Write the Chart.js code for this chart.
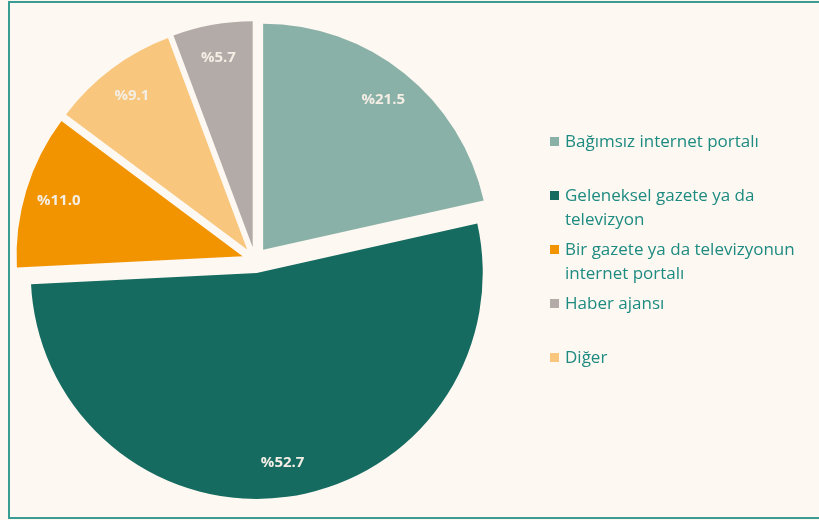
<!DOCTYPE html>
<html>
<head>
<meta charset="utf-8">
<script src="https://cdn.jsdelivr.net/npm/chart.js@4.4.1/dist/chart.umd.min.js"></script>
<style>
  html, body { margin: 0; padding: 0; }
  body { width: 819px; height: 520px; background: #fdf8f2; position: relative; overflow: hidden; font-family: "Open Sans", sans-serif; }
  #frame { position: absolute; left: 8px; top: 1px; width: 840px; height: 514px; border: 2px solid #3a9d93; }
  #wrap { position: absolute; left: 0; top: 0; width: 819px; height: 520px; }
  #legend { position: absolute; left: 550px; top: 129px; width: 262px; }
  .item { position: relative; height: 54px; padding-left: 15px; color: #1e8b81; font-size: 17px; line-height: 24px; }
  .item span.box { position: absolute; left: 0; top: 8px; width: 9px; height: 9px; }
  .item .txt { width: 240px; }
</style>
</head>
<body>
<div id="frame"></div>
<div id="wrap"><canvas id="chart"></canvas></div>
<div id="legend"></div>
<script>
// Pie data, in drawing order (clockwise from the top)
const categories = [
    'Bağımsız internet portalı',
    'Geleneksel gazete ya da televizyon',
    'Bir gazete ya da televizyonun internet portalı',
    'Diğer',
    'Haber ajansı'
];
const shares = [21.5, 52.7, 11.0, 9.1, 5.7];
const colors = ['#8ab1a8', '#156b60', '#f29400', '#f8c67c', '#b3aba7'];
// Legend lists the items in a different order than the pie
const legendOrder = [0, 1, 2, 4, 3];

const EXPLODE = 13;     // px each slice is pulled out from the centre
const LABEL_POS = 0.85; // label distance as a fraction of the radius

// Pull every slice out along its mid angle (Chart.js 'offset' also grows big slices)
const baseArcDraw = Chart.ArcElement.prototype.draw;
Chart.ArcElement.prototype.draw = function(ctx) {
    const mid = (this.startAngle + this.endAngle) / 2;
    ctx.save();
    ctx.translate(Math.cos(mid) * EXPLODE, Math.sin(mid) * EXPLODE);
    baseArcDraw.call(this, ctx);
    ctx.restore();
};

// Percent labels inside the slices
const sliceLabels = {
    id: 'sliceLabels',
    afterDatasetsDraw(chart) {
        const ctx = chart.ctx;
        const meta = chart.getDatasetMeta(0);
        ctx.save();
        ctx.font = 'bold 15px "Open Sans"';
        ctx.fillStyle = '#f4eee5';
        ctx.textAlign = 'center';
        ctx.textBaseline = 'middle';
        meta.data.forEach((arc, i) => {
            const mid = (arc.startAngle + arc.endAngle) / 2;
            const d = arc.outerRadius * LABEL_POS + EXPLODE;
            ctx.fillText('%' + shares[i].toFixed(1), arc.x + Math.cos(mid) * d, arc.y + Math.sin(mid) * d);
        });
        ctx.restore();
    }
};

const ctx = document.getElementById('chart').getContext('2d');
const chart = new Chart(ctx, {
    type: 'pie',
    data: {
        labels: categories,
        datasets: [{
            data: shares,
            backgroundColor: colors,
            borderWidth: 0
        }]
    },
    options: {
        responsive: true,
        maintainAspectRatio: false,
        animation: false,
        radius: 226,
        layout: { padding: { left: 0, right: 309, top: 0, bottom: 0 } },
        plugins: {
            legend: { display: false },
            tooltip: { enabled: false }
        }
    },
    plugins: [sliceLabels]
});

// HTML legend (wraps long names like the original)
const legendEl = document.getElementById('legend');
legendOrder.forEach(i => {
    const item = document.createElement('div');
    item.className = 'item';
    item.innerHTML = '<span class="box" style="background:' + colors[i] + '"></span><div class="txt">' + categories[i] + '</div>';
    legendEl.appendChild(item);
});
</script>
</body>
</html>
